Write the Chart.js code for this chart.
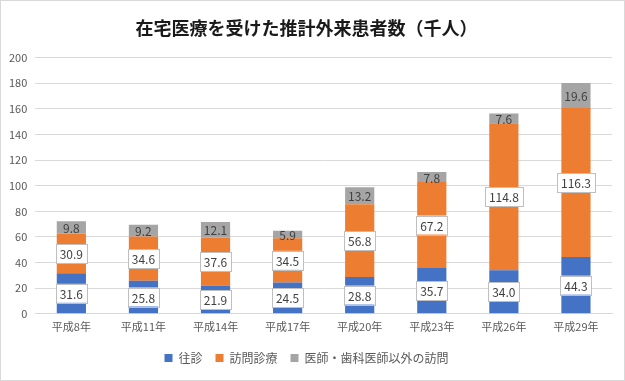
<!DOCTYPE html>
<html><head><meta charset="utf-8">
<script src="https://cdn.jsdelivr.net/npm/chart.js@4"></script>
<style>
html,body{margin:0;padding:0;background:#fff;}
#wrap{position:relative;width:625px;height:381px;box-sizing:border-box;border:1px solid #d9d9d9;}
canvas{display:block;}
</style></head><body>
<div id="wrap"><canvas id="c" width="623" height="379"></canvas></div>
<script>
const categories = ['平成8年','平成11年','平成14年','平成17年','平成20年','平成23年','平成26年','平成29年'];
const oushin = [31.6, 25.8, 21.9, 24.5, 28.8, 35.7, 34.0, 44.3];
const houmonShinryo = [30.9, 34.6, 37.6, 34.5, 56.8, 67.2, 114.8, 116.3];
const sonota = [9.8, 9.2, 12.1, 5.9, 13.2, 7.8, 7.6, 19.6];
const seriesNames = ['往診','訪問診療','医師・歯科医師以外の訪問'];
const yTicks = [0,20,40,60,80,100,120,140,160,180,200];

const FONT = '"Noto Sans CJK JP", "Noto Sans", sans-serif';

const labelPlugin = {
  id: 'segLabels',
  afterDatasetsDraw(chart) {
    const ctx = chart.ctx;
    ctx.save();
    ctx.font = '12px ' + FONT;
    ctx.textAlign = 'center';
    ctx.textBaseline = 'middle';
    chart.data.datasets.forEach((ds, di) => {
      const meta = chart.getDatasetMeta(di);
      meta.data.forEach((el, i) => {
        const v = ds.data[i];
        const txt = v.toFixed(1);
        const cx = el.x;
        const cy = (el.y + el.base) / 2;
        if (ds.boxed) {
          const w = ctx.measureText(txt).width + 8;
          const h = 19;
          ctx.fillStyle = '#ffffff';
          ctx.fillRect(cx - w/2, cy - h/2, w, h);
          ctx.strokeStyle = '#bfbfbf';
          ctx.lineWidth = 1;
          ctx.strokeRect(Math.round(cx - w/2) + 0.5, Math.round(cy - h/2) + 0.5, Math.round(w), h);
        }
        ctx.fillStyle = '#404040';
        ctx.fillText(txt, cx, cy + 1);
      });
    });
    ctx.restore();
  }
};

new Chart(document.getElementById('c'), {
  type: 'bar',
  data: {
    labels: categories,
    datasets: [
      { label: seriesNames[0], data: oushin, backgroundColor: '#4472C4', boxed: true },
      { label: seriesNames[1], data: houmonShinryo, backgroundColor: '#ED7D31', boxed: true },
      { label: seriesNames[2], data: sonota, backgroundColor: '#A5A5A5', boxed: false }
    ]
  },
  options: {
    responsive: false,
    animation: false,
    datasets: { bar: { barPercentage: 0.405, categoryPercentage: 1.0 } },
    layout: { padding: { top: 10, left: 0, right: 12, bottom: 6 } },
    plugins: {
      title: {
        display: true,
        text: '在宅医療を受けた推計外来患者数（千人）',
        color: '#1a1a1a',
        font: { family: FONT, size: 18, weight: 'bold' },
        padding: { top: 6, bottom: 19 }
      },
      legend: {
        position: 'bottom',
        labels: {
          color: '#595959',
          font: { family: FONT, size: 12 },
          boxWidth: 8, boxHeight: 8, padding: 13
        }
      },
      tooltip: { enabled: false }
    },
    scales: {
      x: {
        stacked: true,
        grid: { display: false, drawTicks: false },
        border: { display: true, color: '#d9d9d9' },
        ticks: { color: '#595959', font: { family: FONT, size: 11 }, padding: 6 }
      },
      y: {
        stacked: true,
        min: 0, max: 200,
        afterBuildTicks(scale) { scale.ticks = yTicks.map(v => ({ value: v })); },
        grid: { color: '#d9d9d9', drawTicks: false },
        border: { display: false },
        ticks: { color: '#595959', font: { family: FONT, size: 11 }, padding: 8 }
      }
    }
  },
  plugins: [labelPlugin]
});
</script>
</body></html>
